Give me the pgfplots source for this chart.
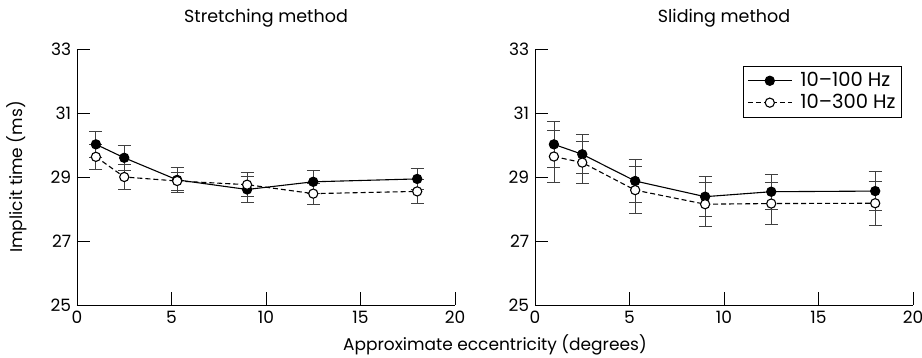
\documentclass[border=0pt]{standalone}
\usepackage{pgfplots}
\pgfplotsset{compat=1.18}
\usepackage{fontspec}
\setmainfont{Poppins}
\begin{document}
\fontsize{17}{20}\selectfont
\begin{tikzpicture}
\path[use as bounding box] (0,0) rectangle (922pt,358pt);
\pgfplotsset{
  every axis/.style={
    scale only axis, width=378pt, height=256pt,
    anchor=south west,
    xmin=0, xmax=20, ymin=25, ymax=33,
    xtick={0,5,10,15,20}, ytick={25,27,29,31,33},
    axis x line*=bottom, axis y line*=left,
    tick align=inside, major tick length=13pt,
    axis line style={line width=0.9pt},
    every tick/.style={line width=0.9pt, black},
    /pgf/number format/assume math mode=true,
    ticklabel style={font=\fontsize{17}{20}\selectfont},
    label style={font=\fontsize{17}{20}\selectfont},
    title style={font=\fontsize{17.5}{21}\selectfont},
    clip=false,
  },
  s1/.style={black, line width=1.1pt, mark=*, mark size=4.6pt,
    mark options={solid, fill=black},
    error bars/.cd, y dir=both, y explicit,
    error bar style={line width=0.8pt, solid, black!75},
    error mark options={rotate=90, mark size=6.5pt, line width=0.8pt, black!75}},
  s2/.style={black, line width=1.1pt, dash pattern=on 5pt off 3pt, mark=*, mark size=4.6pt,
    mark options={solid, fill=white},
    error bars/.cd, y dir=both, y explicit,
    error bar style={line width=0.8pt, solid, black!75},
    error mark options={rotate=90, mark size=6.5pt, line width=0.8pt, black!75}},
}
\begin{axis}[at={(77pt,53pt)},
  title={Stretching method},
  title style={at={(axis description cs:0.5,1.098)}, anchor=center},
  ylabel={Implicit time (ms)},
  ylabel style={at={(axis description cs:-0.159,0.5)}, anchor=center},
]
\addplot+[s1] coordinates {
 (1,30.02) +- (0,0.42)
 (2.5,29.60) +- (0,0.38)
 (5.3,28.91) +- (0,0.38)
 (9.0,28.61) +- (0,0.40)
 (12.5,28.85) +- (0,0.35)
 (18,28.94) +- (0,0.32)
};
\addplot+[s2] coordinates {
 (1,29.63) +- (0,0.39)
 (2.5,29.00) +- (0,0.39)
 (5.3,28.875) +- (0,0.28)
 (9.0,28.76) +- (0,0.38)
 (12.5,28.48) +- (0,0.33)
 (18,28.55) +- (0,0.38)
};
\end{axis}
\begin{axis}[at={(535pt,53pt)},
  title={Sliding method},
  title style={at={(axis description cs:0.5,1.098)}, anchor=center},
  xlabel={Approximate eccentricity (degrees)},
  xlabel style={at={(axis description cs:-0.106,-0.156)}, anchor=center},
  legend style={at={(0.971,0.934)}, anchor=north east, draw=black, line width=0.9pt,
    font=\fontsize{19.5}{23}\selectfont, inner xsep=4pt, inner ysep=4pt, row sep=1pt,
    /tikz/every odd column/.append style={column sep=6pt}},
  legend cell align=left,
  legend image code/.code={\draw[#1, mark repeat=2, mark phase=2, line width=1.1pt] plot coordinates {(0pt,0pt) (22pt,0pt) (44pt,0pt)};},
]
\addplot+[s1] coordinates {
 (1,30.02) +- (0,0.72)
 (2.5,29.71) +- (0,0.61)
 (5.3,28.875) +- (0,0.66)
 (9.0,28.385) +- (0,0.62)
 (12.5,28.54) +- (0,0.55)
 (18,28.56) +- (0,0.6)
};
\addlegendentry{10--100 Hz}
\addplot+[s2] coordinates {
 (1,29.64) +- (0,0.82)
 (2.5,29.45) +- (0,0.65)
 (5.3,28.59) +- (0,0.74)
 (9.0,28.15) +- (0,0.69)
 (12.5,28.17) +- (0,0.65)
 (18,28.18) +- (0,0.69)
};
\addlegendentry{10--300 Hz}
\end{axis}
\end{tikzpicture}
\end{document}
